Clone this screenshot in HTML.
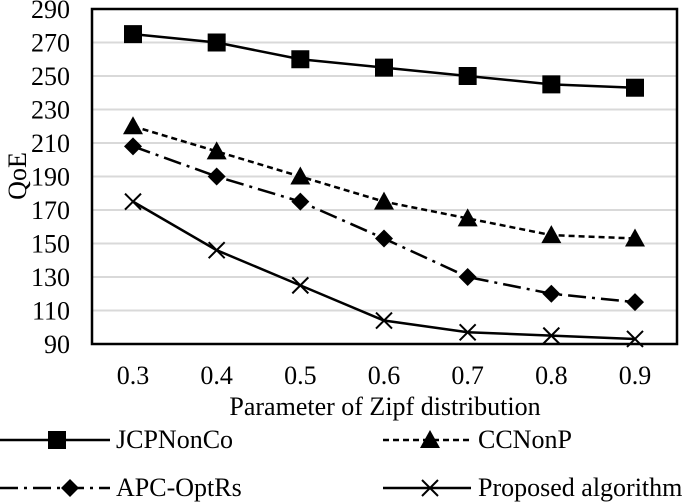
<!DOCTYPE html>
<html><head><meta charset="utf-8"><style>
body{margin:0;background:#fff}
svg{display:block;font-family:"Liberation Serif",serif}
</style></head><body>
<svg id="c" width="685" height="504"></svg>
<script>
const categories=[0.3,0.4,0.5,0.6,0.7,0.8,0.9];
const jcpNonCo=[275,270,260,255,250,245,243];
const ccNonP=[220,205,190,175,165,155,153];
const apcOptRs=[208,190,175,153,130,120,115];
const proposed=[175,146,125,104,97,95,93];
const yTicks=[90,110,130,150,170,190,210,230,250,270,290];
const NS="http://www.w3.org/2000/svg";
const svg=document.getElementById('c');
const L=92,R=677,T=9,B=344;
const FS=26;
const x=i=>133+i*(635-133)/(categories.length-1);
const y=v=>B-(v-90)*(B-T)/200;
function mk(t,a,p){const e=document.createElementNS(NS,t);for(const k in a)e.setAttribute(k,a[k]);(p||svg).appendChild(e);return e;}
yTicks.forEach(v=>{
 if(v>90&&v<290){const g=mk('line',{x1:L,x2:R,y1:y(v),y2:y(v),stroke:'#d9d9d9','stroke-width':2});
 
 }
 const t=mk('text',{x:70,y:y(v)+9,'text-anchor':'end','font-size':FS});t.textContent=v;
 
 
});
const fr=mk('rect',{x:L,y:T,width:R-L,height:B-T,fill:'none',stroke:'#000','stroke-width':2.5});


categories.forEach((c,i)=>{const t=mk('text',{x:x(i),y:384,'text-anchor':'middle','font-size':FS});t.textContent=c.toFixed(1);
 
 });
const xt=mk('text',{x:385,y:415,'text-anchor':'middle','font-size':FS});xt.textContent='Parameter of Zipf  distribution';


const yt=mk('text',{x:0,y:0,'text-anchor':'middle','font-size':FS,transform:'translate(26,176) rotate(-90)'});yt.textContent='QoE';


function marker(kind,cx,cy,g){
 if(kind==='sq')mk('rect',{x:cx-9,y:cy-9,width:18,height:18,fill:'#000'},g);
 if(kind==='tri')mk('polygon',{points:`${cx},${cy-10} ${cx-10},${cy+8} ${cx+10},${cy+8}`,fill:'#000'},g);
 if(kind==='dia')mk('polygon',{points:`${cx},${cy-9} ${cx+9},${cy} ${cx},${cy+9} ${cx-9},${cy}`,fill:'#000'},g);
 if(kind==='x'){mk('path',{d:`M${cx-8},${cy-8}L${cx+8},${cy+8}M${cx+8},${cy-8}L${cx-8},${cy+8}`,stroke:'#000','stroke-width':2},g);}
}
const series=[
 {name:'JCPNonCo',vals:jcpNonCo,dash:'',m:'sq',lx:0,ly:440,mx:57},
 {name:'CCNonP',vals:ccNonP,dash:'6,4',m:'tri',lx:383,ly:440,mx:430},
 {name:'APC-OptRs',vals:apcOptRs,dash:'18,6,3,6',m:'dia',lx:0,ly:488,mx:70},
 {name:'Proposed algorithm',vals:proposed,dash:'',m:'x',lx:383,ly:488,mx:430}
];
series.forEach(s=>{
 const g=mk('g',{});
 
 
 mk('polyline',{points:s.vals.map((v,i)=>x(i)+','+y(v)).join(' '),fill:'none',stroke:'#000','stroke-width':2.5,'stroke-dasharray':s.dash},g);
 s.vals.forEach((v,i)=>marker(s.m,x(i),y(v),g));
 const lg=mk('g',{});
 
 
 mk('line',{x1:s.lx,x2:s.lx+(s.lx?88:110),y1:s.ly,y2:s.ly,stroke:'#000','stroke-width':2.5,'stroke-dasharray':s.dash},lg);
 marker(s.m,s.mx,s.ly,lg);
 const t=mk('text',{x:s.lx+(s.lx?95:116),y:s.ly+8,'font-size':FS},lg);t.textContent=s.name;
});
</script>
</body></html>
